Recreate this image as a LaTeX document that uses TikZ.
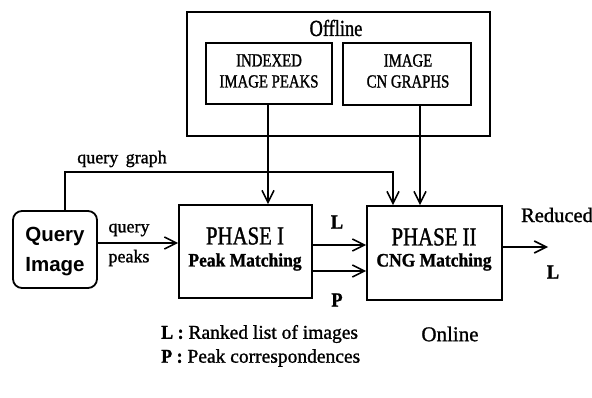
\documentclass[tikz,border=0pt]{standalone}
\usepackage{fontspec}
\setmainfont{Liberation Serif}[FakeBold=1.2, BoldFont={Liberation Serif Bold}, BoldFeatures={FakeStretch=0.92}]
\newfontfamily\capsf{Liberation Serif}[FakeStretch=0.8, FakeBold=1.2]
\newfontfamily\sansb{Liberation Sans}
\usetikzlibrary{arrows.meta}
\tikzset{
  box/.style={draw, line width=1.8pt, inner sep=0pt},
  arr/.style={line width=1.8pt, -{Straight Barb[length=12pt,width=12pt,line width=1.6pt]}},
  lbl/.style={inner sep=0pt, font=\fontsize{18}{20}\selectfont},
  capl/.style={inner sep=0pt, align=center, font=\capsf\fontsize{18.5}{22}\selectfont},
  bl/.style={inner sep=0pt, font=\fontsize{20}{22}\selectfont\bfseries},
}
\begin{document}
\begin{tikzpicture}[x=1pt,y=-1pt]
\useasboundingbox (0,0) rectangle (592,398);
% offline
\node[box, minimum width=303pt, minimum height=124pt] (off) at (338.5,74) {};
\node[capl, font=\capsf\fontsize{23}{24}\selectfont] (offt) at (336,28) {Offline};
\node[box, minimum width=126pt, minimum height=61pt] (idx) at (269,73.5) {};
\node[capl] (idxt) at (269,71) {INDEXED\\[-1pt]IMAGE PEAKS};
\node[box, minimum width=128pt, minimum height=62pt] (cn) at (407,74) {};
\node[capl] (cnt) at (408,71) {IMAGE\\[-1pt]CN GRAPHS};
% query image
\node[box, rounded corners=9pt, minimum width=84pt, minimum height=77pt] (q) at (55,249.5) {};
\node[inner sep=0pt, align=center, font=\sansb\bfseries\fontsize{20.5}{30}\selectfont] (qt) at (55,252) {Query\\Image};
% phases
\node[box, minimum width=133pt, minimum height=93pt] (p1) at (245.5,251.5) {};
\node[inner sep=0pt, font=\capsf\fontsize{26}{28}\selectfont] (p1a) at (245,236) {PHASE I};
\node[inner sep=0pt, font=\bfseries\fontsize{19}{22}\selectfont] (p1b) at (245,262) {Peak Matching};
\node[box, minimum width=135pt, minimum height=94pt] (p2) at (434.5,253) {};
\node[inner sep=0pt, font=\capsf\fontsize{26}{28}\selectfont] (p2a) at (434,237) {PHASE II};
\node[inner sep=0pt, font=\bfseries\fontsize{19}{22}\selectfont] (p2b) at (434,262) {CNG Matching};
% connectors
\draw[arr] (idx.south -| 268,0) -- (p1.north -| 268,0);
\draw[arr] (cn.south -| 420,0) -- (p2.north -| 420,0);
\coordinate (g1) at (65,172);
\coordinate (g2) at (393,172);
\draw[arr] (q.north -| g1) -- (g1) -- (g2) -- (p2.north -| g2);
\node[lbl] (qg) at (122,159) {query\, graph};
\draw[arr] (q.east |- 0,243) -- (p1.west |- 0,243);
\node[lbl] (qq) at (129,230) {query};
\node[lbl] (qp) at (129,258) {peaks};
\draw[arr] (p1.east |- 0,245) -- (p2.west |- 0,245);
\draw[arr] (p1.east |- 0,271) -- (p2.west |- 0,271);
\node[bl] (lL) at (337,222) {L};
\node[bl] (lP) at (337,300) {P};
\coordinate (out) at (548,247);
\draw[arr] (p2.east |- out) -- (out);
\node[inner sep=0pt, font=\fontsize{20.5}{22}\selectfont] (red) at (557,215) {Reduced};
\node[bl] (rL) at (553,272) {L};
% legend
\node[inner sep=0pt, anchor=west, font=\fontsize{19.5}{22}\selectfont] (leg1) at (161,334) {\textbf{L :} Ranked list of images};
\node[inner sep=0pt, anchor=west, font=\fontsize{19.5}{22}\selectfont] (leg2) at (161,358) {\textbf{P :} Peak correspondences};
\node[inner sep=0pt, font=\fontsize{21}{22}\selectfont] (onl) at (450,334) {Online};
\end{tikzpicture}
\end{document}
